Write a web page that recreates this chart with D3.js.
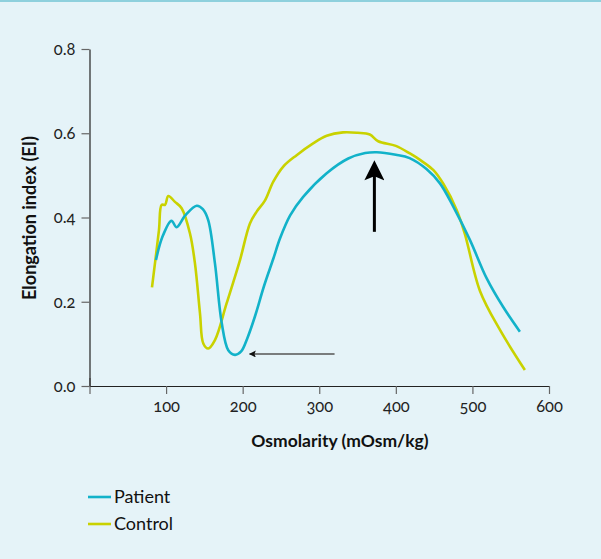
<meta charset="utf-8">
<head>
    <script type="text/javascript" src="https://cdn.jsdelivr.net/npm/d3@7/dist/d3.min.js"></script>
    <style>
        body { margin: 0; background: #e5f3f8; }
        text { font-family: Lato, "Open Sans", sans-serif; font-variant-numeric: oldstyle-nums; }
    </style>
</head>
<body>
    <svg width=601 height=559></svg>
</body>
<script>
    let seriesNames = ["Patient", "Control"];
    let seriesColors = ["#12b2c9", "#c9d200"];

    let patientX = [86.8, 95, 107, 113.8, 125, 140, 148, 155, 163.8, 172.6, 181.2, 190, 198, 206, 216, 228, 240, 248.7, 262, 279, 309.7, 337.9, 360, 375, 400, 418, 440, 457.6, 475, 496.7, 518.5, 540, 562];
    let patientY = [0.299, 0.353, 0.392, 0.377, 0.405, 0.428, 0.420, 0.394, 0.291, 0.150, 0.085, 0.074, 0.082, 0.113, 0.165, 0.238, 0.302, 0.350, 0.405, 0.449, 0.505, 0.540, 0.553, 0.555, 0.549, 0.541, 0.515, 0.481, 0.426, 0.347, 0.256, 0.188, 0.129];

    let controlX = [81.6, 90.7, 94.2, 98.6, 102.9, 111.6, 120.3, 131.2, 137.7, 144.3, 148.6, 155, 163.8, 179, 196.5, 209.5, 218.3, 229, 240, 253, 270.5, 292, 309.7, 331, 350, 366, 377, 400, 418.4, 433, 448.8, 462, 479.4, 490, 510, 536, 568.5];
    let controlY = [0.234, 0.370, 0.430, 0.430, 0.451, 0.437, 0.422, 0.362, 0.291, 0.172, 0.101, 0.089, 0.109, 0.196, 0.299, 0.386, 0.414, 0.440, 0.485, 0.521, 0.548, 0.576, 0.594, 0.602, 0.601, 0.597, 0.581, 0.570, 0.552, 0.535, 0.513, 0.480, 0.418, 0.362, 0.225, 0.133, 0.038];

    let xTicks = [0, 100, 200, 300, 400, 500, 600];
    let yTicks = [0, 0.2, 0.4, 0.6, 0.8];

    // arrows: [x1, y1, x2, y2] in data units, head at the second point
    let thinArrow = [320, 0.076, 209, 0.076];
    let thickArrow = [372, 0.366, 372, 0.531];

    let x = d3.scaleLinear().domain([0, 600]).range([89.5, 549]);
    let y = d3.scaleLinear().domain([0, 0.8]).range([386, 49]);

    let svg = d3.select('svg');

    svg.append("rect")
        .attr("width", 601).attr("height", 559)
        .attr("fill", "#e5f3f8");
    svg.append("rect")
        .attr("width", 601).attr("height", 2)
        .attr("fill", "#8ed0dd");

    // axes
    let xAxis = d3.axisBottom(x).tickValues(xTicks).tickSize(8).tickSizeOuter(0).tickPadding(6)
        .tickFormat(function (d) { return d === 0 ? "" : d; });
    let yAxis = d3.axisLeft(y).tickValues(yTicks).tickSize(8).tickSizeOuter(0).tickPadding(6)
        .tickFormat(d3.format(".1f"));

    let gx = svg.append("g")
        .attr("transform", `translate(0, ${y(0)})`)
        .call(xAxis);
    let gy = svg.append("g")
        .attr("transform", `translate(${x(0)}, 0)`)
        .call(yAxis);

    [gx, gy].forEach(function (g) {
        g.select(".domain").attr("stroke", "#222").attr("stroke-width", 1.2);
        g.selectAll(".tick line").attr("stroke", "#666").attr("stroke-width", 1.2);
        g.selectAll(".tick text")
            .attr("font-size", 16.5)
            .attr("fill", "#222")
            .style("font-family", "Lato, sans-serif");
    });
    gx.select(".tick line").attr("y1", -8);

    svg.append("text")
        .attr("x", 340).attr("y", 447)
        .attr("text-anchor", "middle")
        .attr("font-size", 17.5).attr("font-weight", "bold").attr("fill", "#111")
        .text("Osmolarity (mOsm/kg)");

    svg.append("text")
        .attr("transform", "translate(36, 218) rotate(-90)")
        .attr("text-anchor", "middle")
        .attr("font-size", 18).attr("font-weight", "bold").attr("fill", "#111")
        .text("Elongation index (EI)");

    // curves
    let series = [
        { name: seriesNames[0], color: seriesColors[0], points: d3.zip(patientX, patientY) },
        { name: seriesNames[1], color: seriesColors[1], points: d3.zip(controlX, controlY) }
    ];

    let line = d3.line()
        .x(function (d) { return x(d[0]); })
        .y(function (d) { return y(d[1]); })
        .curve(d3.curveCatmullRom.alpha(0.5));

    svg.selectAll("path.series")
        .data(series.slice().reverse())
        .enter()
        .append("path")
        .attr("class", "series")
        .attr("fill", "none")
        .attr("stroke", function (d) { return d.color; })
        .attr("stroke-width", 2.6)
        .attr("stroke-linejoin", "round")
        .attr("d", function (d) { return line(d.points); });

    // arrows
    let defs = svg.append("defs");
    defs.append("marker")
        .attr("id", "headThin")
        .attr("viewBox", "0 0 10 10").attr("refX", 9).attr("refY", 5)
        .attr("markerWidth", 7).attr("markerHeight", 7)
        .attr("markerUnits", "userSpaceOnUse")
        .attr("orient", "auto")
        .append("path").attr("d", "M0,0 L10,5 L0,10 L2,5 Z").attr("fill", "#111");
    defs.append("marker")
        .attr("id", "headThick")
        .attr("viewBox", "0 0 10 10").attr("refX", 9).attr("refY", 5)
        .attr("markerWidth", 23).attr("markerHeight", 20)
        .attr("markerUnits", "userSpaceOnUse")
        .attr("orient", "auto")
        .append("path").attr("d", "M0,0 L10,5 L0,10 L2,5 Z").attr("fill", "#000");

    svg.append("line")
        .attr("x1", x(thinArrow[0])).attr("y1", y(thinArrow[1]))
        .attr("x2", x(thinArrow[2])).attr("y2", y(thinArrow[3]))
        .attr("stroke", "#555").attr("stroke-width", 1.3)
        .attr("marker-end", "url(#headThin)");

    svg.append("line")
        .attr("x1", x(thickArrow[0])).attr("y1", y(thickArrow[1]))
        .attr("x2", x(thickArrow[2])).attr("y2", y(thickArrow[3]) + 6)
        .attr("stroke", "#000").attr("stroke-width", 3);
    svg.append("line")
        .attr("x1", x(thickArrow[0])).attr("y1", y(thickArrow[3]) + 20)
        .attr("x2", x(thickArrow[2])).attr("y2", y(thickArrow[3]))
        .attr("stroke", "none")
        .attr("marker-end", "url(#headThick)");

    // legend
    let legend = svg.selectAll("g.legend")
        .data(series)
        .enter()
        .append("g")
        .attr("class", "legend")
        .attr("transform", function (d, i) { return `translate(88, ${497 + i * 27})`; });

    legend.append("line")
        .attr("x1", 0).attr("x2", 23)
        .attr("stroke", function (d) { return d.color; })
        .attr("stroke-width", 2.6);

    legend.append("text")
        .attr("x", 26).attr("dy", ".35em")
        .attr("font-size", 18).attr("fill", "#111")
        .text(function (d) { return d.name; });
</script>
